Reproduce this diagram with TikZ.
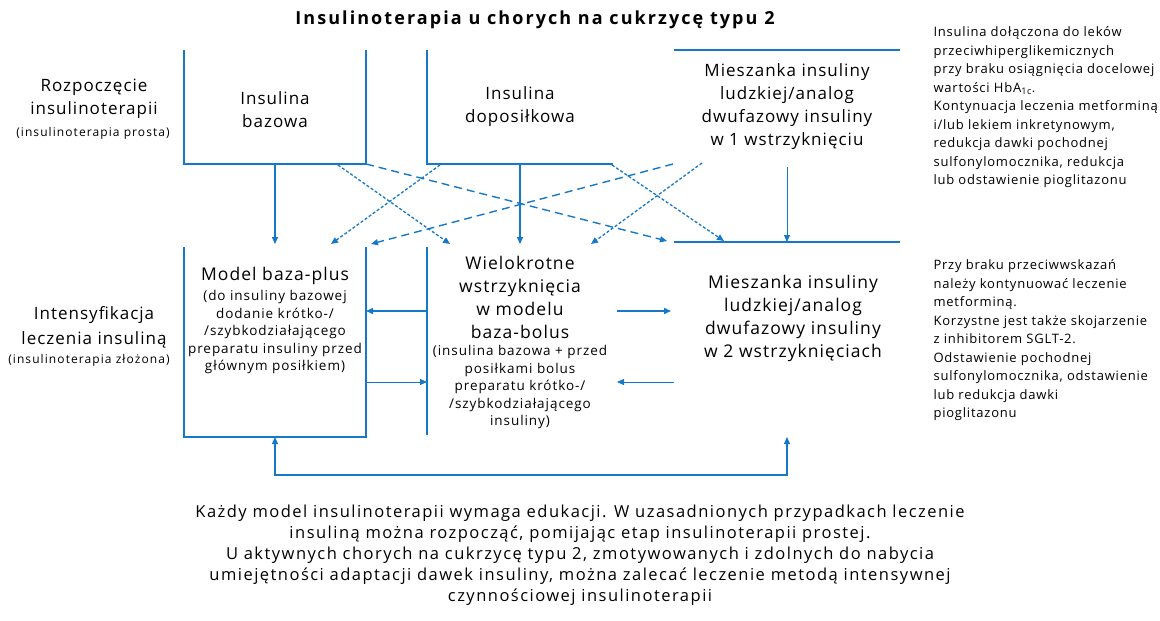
\documentclass[tikz,border=0pt]{standalone}
\usepackage{fontspec}
\setmainfont{Open Sans}
\usetikzlibrary{arrows.meta}
\definecolor{bl}{RGB}{22,120,200}
\newcommand{\lsp}[1]{\addfontfeatures{LetterSpace=#1}}
\tikzset{
  boxline/.style={draw=bl, line width=2.2pt},
  area/.style={inner sep=0pt, outer sep=0pt},
  main/.style={align=center, font=\fontsize{17}{23}\selectfont\lsp{6}},
  big/.style={align=center, font=\fontsize{17.5}{23}\selectfont\lsp{6}},
  small/.style={align=center, font=\fontsize{13.5}{17.5}\selectfont\lsp{7}},
  lsmall/.style={font=\fontsize{12}{14}\selectfont\lsp{9}},
  side/.style={align=left, anchor=west, font=\fontsize{13}{18.5}\selectfont\lsp{6}},
  arr/.style={draw=bl, line width=1.5pt, -{Triangle[length=7pt,width=6pt]}},
  thinarr/.style={draw=bl, line width=0.8pt, -{Triangle[length=7pt,width=6pt]}},
  dsh/.style={arr, line width=1.4pt, dash pattern=on 8pt off 5pt},
  dtt/.style={arr, line width=1.3pt, dash pattern=on 3pt off 2pt},
}
\begin{document}
\begin{tikzpicture}[x=1pt,y=-1pt]
\useasboundingbox (0,0) rectangle (1160,621);
% title
\node[font=\bfseries\fontsize{18}{20}\selectfont\lsp{11.5}] (title) at (535,20) {Insulinoterapia u chorych na cukrzycę typu 2};
% box areas
\node[area, minimum width=182pt, minimum height=114pt] (baz) at (275,107) {};
\node[area, minimum width=186pt, minimum height=114pt] (dop) at (520,107) {};
\node[area, minimum width=226pt, minimum height=114pt] (mx1) at (787,107) {};
\node[area, minimum width=182pt, minimum height=190pt] (model) at (275,342) {};
\node[area, minimum width=190pt, minimum height=188pt] (wiel) at (522,341) {};
\node[area, minimum width=226pt, minimum height=195pt] (mx2) at (787,339.5) {};
% box outlines
\draw[boxline] (baz.north west) -- (baz.south west) -- (baz.south east) -- (baz.north east);
\draw[boxline] (dop.north west) -- (dop.south west) -- (dop.south east);
\draw[boxline] (mx1.north west) -- (mx1.north east);
\draw[boxline] (model.north west) -- (model.south west) -- (model.south east) -- (model.north east);
\draw[boxline] (wiel.north west) -- (wiel.south west);
\draw[boxline] (mx2.north west) -- (mx2.north east);
% texts
\node[main] (tbaz) at (275,110) {Insulina\\bazowa};
\node[main] (tdop) at (520,107) {Insulina\\doposiłkowa};
\node[main] (tmx1) at (787,107) {Mieszanka insuliny\\ludzkiej/analog\\dwufazowy insuliny\\w 1 wstrzyknięciu};
\node[big] (tmod) at (275,276) {Model baza-plus};
\node[small] (smod) at (275,332) {(do insuliny bazowej\\dodanie krótko-/\\/szybkodziałającego\\preparatu insuliny przed\\głównym posiłkiem)};
\node[big] (twiel) at (520,297.5) {Wielokrotne\\wstrzyknięcia\\w modelu\\baza-bolus};
\node[small] (swiel) at (520,387) {(insulina bazowa + przed\\posiłkami bolus\\preparatu krótko-/\\/szybkodziałającego\\insuliny)};
\node[big] (tmx2) at (793,318.5) {Mieszanka insuliny\\ludzkiej/analog\\dwufazowy insuliny\\w 2 wstrzyknięciach};
% left labels
\node[main] (l1) at (94,98.5) {Rozpoczęcie\\insulinoterapii};
\node[lsmall] (l1s) at (93,133) {(insulinoterapia prosta)};
\node[main, font=\fontsize{17}{25}\selectfont\lsp{6}] (l2) at (94,327.5) {Intensyfikacja\\leczenia insuliną};
\node[lsmall] (l2s) at (89,360) {(insulinoterapia złożona)};
% right notes
\node[side] (n1) at (930,107.5) {Insulina dołączona do leków\\przeciwhiperglikemicznych\\przy braku osiągnięcia docelowej\\wartości HbA\textsubscript{1c}.\\Kontynuacja leczenia metforminą\\i/lub lekiem inkretynowym,\\redukcja dawki pochodnej\\sulfonylomocznika, redukcja\\lub odstawienie pioglitazonu};
\node[side] (n2) at (930,340.5) {Przy braku przeciwwskazań\\należy kontynuować leczenie\\metforminą.\\Korzystne jest także skojarzenie\\z inhibitorem SGLT-2.\\Odstawienie pochodnej\\sulfonylomocznika, odstawienie\\lub redukcja dawki\\pioglitazonu};
% bottom text
\node[align=center, font=\fontsize{16.5}{21}\selectfont\lsp{9}] (foot) at (580,555) {Każdy model insulinoterapii wymaga edukacji. W uzasadnionych przypadkach leczenie\\insuliną można rozpocząć, pomijając etap insulinoterapii prostej.\\U aktywnych chorych na cukrzycę typu 2, zmotywowanych i zdolnych do nabycia\\umiejętności adaptacji dawek insuliny, można zalecać leczenie metodą intensywnej\\czynnościowej insulinoterapii};
% coordinates for connectors
\coordinate (bazA) at (338,165);
\coordinate (dopA) at (440,165);
\coordinate (dopB) at (612,165);
\coordinate (mxA) at (673,164);
\coordinate (mxB) at (702,163);
\coordinate (mxC) at (787,167);
\coordinate (modIn) at (331,244);
\coordinate (modIn2) at (371,244);
\coordinate (wiIn) at (450,244);
\coordinate (wiIn2) at (591,244);
\coordinate (mx2In) at (667,241);
\coordinate (mx2In2) at (724,241);
\coordinate (mx2Top) at (787,242);
% vertical solid arrows
\draw[arr, shorten >=3pt] (baz.south) -- (baz.south |- model.north);
\draw[arr, shorten >=3pt] (dop.south -| twiel) -- (twiel |- wiel.north);
\draw[thinarr] (mxC) -- (mx2Top);
% dashed / dotted crossings
\draw[dsh] (baz.south east) -- (mx2In);
\draw[dsh] (mxA) -- (modIn2);
\draw[dtt] (bazA) -- (wiIn);
\draw[dtt] (dopA) -- (modIn);
\draw[dtt] (dopB) -- (mx2In2);
\draw[dtt] (mxB) -- (wiIn2);
% horizontal arrows
\draw[arr] (wiel.west |- 0,311) -- (model.east |- 0,311);
\draw[thinarr] (model.east |- 0,382) -- (wiel.west |- 0,382);
\coordinate (wr1) at (617,311);
\coordinate (mxl1) at (671,311);
\coordinate (mxl2) at (674,382);
\coordinate (wr2) at (617,382);
\draw[arr] (wr1) -- (mxl1);
\draw[thinarr] (mxl2) -- (wr2);
% bottom loop
\coordinate (loopL) at (275,475);
\draw[draw=bl, line width=1.2pt, {Triangle[length=7pt,width=6pt]}-{Triangle[length=7pt,width=6pt]}] (model.south) -- (loopL) -| (mx2.south);
\end{tikzpicture}
\end{document}
